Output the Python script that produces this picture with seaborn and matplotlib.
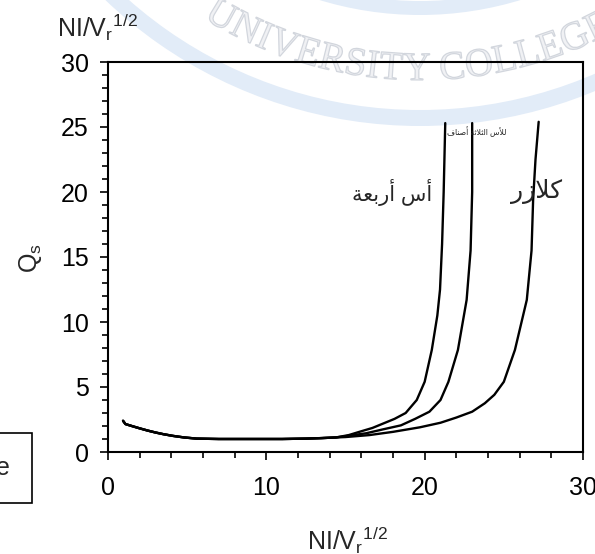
import numpy as np
import pandas as pd
import matplotlib
matplotlib.use("Agg")
import matplotlib.pyplot as plt
import seaborn as sns
from matplotlib.ticker import MultipleLocator
from matplotlib.textpath import TextPath
from matplotlib.font_manager import FontProperties
from matplotlib.patches import PathPatch, Rectangle, Arc
from matplotlib.path import Path
from matplotlib.transforms import IdentityTransform

# ---- data -------------------------------------------------------------
# shared low branch of all three curves
base_x = [0.95, 1.1, 1.5, 2.0, 2.5, 3.0, 3.5, 4.1, 4.8, 5.6, 7.0, 9.0, 11.0, 12.5, 13.5, 14.4]
base_q = [2.40, 2.15, 2.00, 1.82, 1.65, 1.50, 1.37, 1.24, 1.12, 1.03, 1.00, 1.00, 1.00, 1.03, 1.07, 1.12]

# rising branches
rise1_x = [15.2, 15.9, 16.7, 17.4, 18.1, 18.8, 19.5, 20.0, 20.45, 20.8, 20.97, 21.1, 21.2, 21.3]
rise1_q = [1.30, 1.56, 1.85, 2.20, 2.55, 3.00, 4.00, 5.40, 7.85, 10.5, 12.5, 16.0, 20.0, 25.3]

rise2_x = [15.2, 16.3, 17.4, 18.5, 19.4, 20.3, 21.0, 21.5, 22.1, 22.65, 22.9, 23.0, 23.0]
rise2_q = [1.25, 1.44, 1.75, 2.05, 2.55, 3.10, 4.00, 5.40, 7.85, 11.7, 15.5, 20.0, 25.3]

rise3_x = [15.0, 16.5, 18.0, 19.7, 21.0, 22.0, 23.0, 23.8, 24.4, 25.0, 25.7, 26.45, 26.75, 26.85, 27.0, 27.2]
rise3_q = [1.15, 1.30, 1.55, 1.90, 2.25, 2.65, 3.10, 3.75, 4.40, 5.40, 7.85, 11.7, 15.5, 19.4, 22.5, 25.4]

curve_names = ["أس أربعة", "للأس الثلاثة أصناف", "كلازر"]
x_ticks = [0, 10, 20, 30]
y_ticks = [0, 5, 10, 15, 20, 25, 30]
axis_label = r"NI/V$_\mathrm{r}$$^\mathrm{1/2}$"
q_label = r"Q$_\mathrm{s}$"
watermark = "UNIVERSITY COLLEGE"

# ---- Arabic shaping (presentation forms + right-to-left order) ----------
FORMS = {
    'ا': ('\uFE8D', '\uFE8E', None, None),
    'أ': ('\uFE83', '\uFE84', None, None),
    'ب': ('\uFE8F', '\uFE90', '\uFE91', '\uFE92'),
    'ة': ('\uFE93', '\uFE94', None, None),
    'ت': ('\uFE95', '\uFE96', '\uFE97', '\uFE98'),
    'ث': ('\uFE99', '\uFE9A', '\uFE9B', '\uFE9C'),
    'ر': ('\uFEAD', '\uFEAE', None, None),
    'ز': ('\uFEAF', '\uFEB0', None, None),
    'س': ('\uFEB1', '\uFEB2', '\uFEB3', '\uFEB4'),
    'ص': ('\uFEB9', '\uFEBA', '\uFEBB', '\uFEBC'),
    'ع': ('\uFEC9', '\uFECA', '\uFECB', '\uFECC'),
    'ف': ('\uFED1', '\uFED2', '\uFED3', '\uFED4'),
    'ك': ('\uFED9', '\uFEDA', '\uFEDB', '\uFEDC'),
    'ل': ('\uFEDD', '\uFEDE', '\uFEDF', '\uFEE0'),
    'ن': ('\uFEE5', '\uFEE6', '\uFEE7', '\uFEE8'),
}
LAM_ALEF = {'ا': ('\uFEFB', '\uFEFC'), 'أ': ('\uFEF7', '\uFEF8')}


def shape(text):
    units = []
    i = 0
    while i < len(text):
        c = text[i]
        if c == 'ل' and i + 1 < len(text) and text[i + 1] in LAM_ALEF:
            units.append(('LA', text[i + 1]))
            i += 2
        else:
            units.append((c, None))
            i += 1
    out = []
    for k, (c, extra) in enumerate(units):
        prev = units[k - 1][0] if k > 0 else None
        nxt = units[k + 1][0] if k + 1 < len(units) else None
        joins_prev = prev in FORMS and FORMS[prev][2] is not None
        if c == 'LA':
            out.append(LAM_ALEF[extra][1 if joins_prev else 0])
            continue
        if c not in FORMS:
            out.append(c)
            continue
        iso, fin, ini, med = FORMS[c]
        joins_next = ini is not None and (nxt == 'LA' or nxt in FORMS)
        if joins_prev and joins_next:
            out.append(med)
        elif joins_prev:
            out.append(fin)
        elif joins_next:
            out.append(ini)
        else:
            out.append(iso)
    return ''.join(reversed(out))


# ---- figure -----------------------------------------------------------
sns.set_style("ticks")
FONT = ['Liberation Sans', 'DejaVu Sans']
plt.rcParams['font.family'] = FONT
plt.rcParams['mathtext.fontset'] = 'custom'
plt.rcParams['mathtext.rm'] = 'Liberation Sans'
plt.rcParams['mathtext.it'] = 'Liberation Sans'

W, H = 595, 554
fig = plt.figure(figsize=(W / 100, H / 100), dpi=100)
fig.patch.set_facecolor('white')

# faint circular seal in the background
cx, cy = 420, H + 330
for r, w in [(338, 14), (448, 16)]:
    fig.add_artist(Arc((cx, cy), 2 * r, 2 * r, theta1=200, theta2=340,
                       transform=IdentityTransform(), color='#e2ecf8',
                       lw=w * 0.72, zorder=-5))
tp = TextPath((0, 0), watermark, size=40,
              prop=FontProperties(family='Liberation Serif'))
verts = tp.vertices.copy()
tw = verts[:, 0].max()
R = 410
theta_c = np.deg2rad(-92.0)
ang = theta_c + (verts[:, 0] - tw / 2) / R
rad = R - verts[:, 1]
warped = np.column_stack([cx + rad * np.cos(ang), cy + rad * np.sin(ang)])
fig.add_artist(PathPatch(Path(warped, tp.codes), transform=IdentityTransform(),
                         facecolor='#f0f1f4', edgecolor='#d2d6dd', lw=0.9, zorder=-4))

ax = fig.add_axes([108 / W, 1 - 452 / H, (583 - 108) / W, (452 - 62) / H])
ax.set_facecolor('none')

frames = []
for name, rx, rq in zip(curve_names, [rise1_x, rise2_x, rise3_x], [rise1_q, rise2_q, rise3_q]):
    frames.append(pd.DataFrame({'x': base_x + rx, 'Q': base_q + rq, 'curve': name}))
df = pd.concat(frames, ignore_index=True)

sns.lineplot(data=df, x='x', y='Q', hue='curve', units='curve', estimator=None,
             sort=False, palette=['black'] * 3, legend=False, lw=1.7, ax=ax)

ax.set_xlim(0, 30)
ax.set_ylim(0, 30)
ax.set_xticks(x_ticks)
ax.set_yticks(y_ticks)
ax.xaxis.set_minor_locator(MultipleLocator(2))
ax.yaxis.set_minor_locator(MultipleLocator(1))
ax.set_xlabel('')
ax.set_ylabel('')
for s in ax.spines.values():
    s.set_visible(True)
    s.set_linewidth(1.5)
    s.set_color('black')
ax.tick_params(which='major', direction='out', length=6, width=1.2,
               labelsize=18, colors='black')
ax.tick_params(axis='x', which='major', pad=11)
ax.tick_params(axis='y', which='major', pad=8)
ax.tick_params(which='minor', direction='out', length=4, width=1.2, colors='black')
ax.tick_params(top=False, right=False, which='both')

# curve annotations
ax.text(20.45, 20.0, shape(curve_names[0]), ha='right', va='center',
        fontsize=15, family=FONT)
ax.text(21.4, 24.6, shape(curve_names[1]), ha='left', va='center',
        fontsize=5.6, family=FONT)
ax.text(28.68, 20.0, shape(curve_names[2]), ha='right', va='center',
        fontsize=18, family=FONT)

# axis titles
fig.text(57 / W, 1 - 37 / H, axis_label, fontsize=18, ha='left', va='baseline')
fig.text(307 / W, 1 - 550 / H, axis_label, fontsize=18, ha='left', va='baseline')
fig.text(31 / W, 1 - 258 / H, q_label, fontsize=18, rotation=90,
         ha='center', va='center')

# partly visible boxed note at the left edge
fig.add_artist(Rectangle((-2 / W, 1 - 503 / H), 34 / W, 70 / H,
                         transform=fig.transFigure, fill=False,
                         edgecolor='black', lw=1.2))
fig.text(10 / W, 1 - 468 / H, 'e', fontsize=18, ha='right', va='center')

fig.savefig('out.png', dpi=100)
